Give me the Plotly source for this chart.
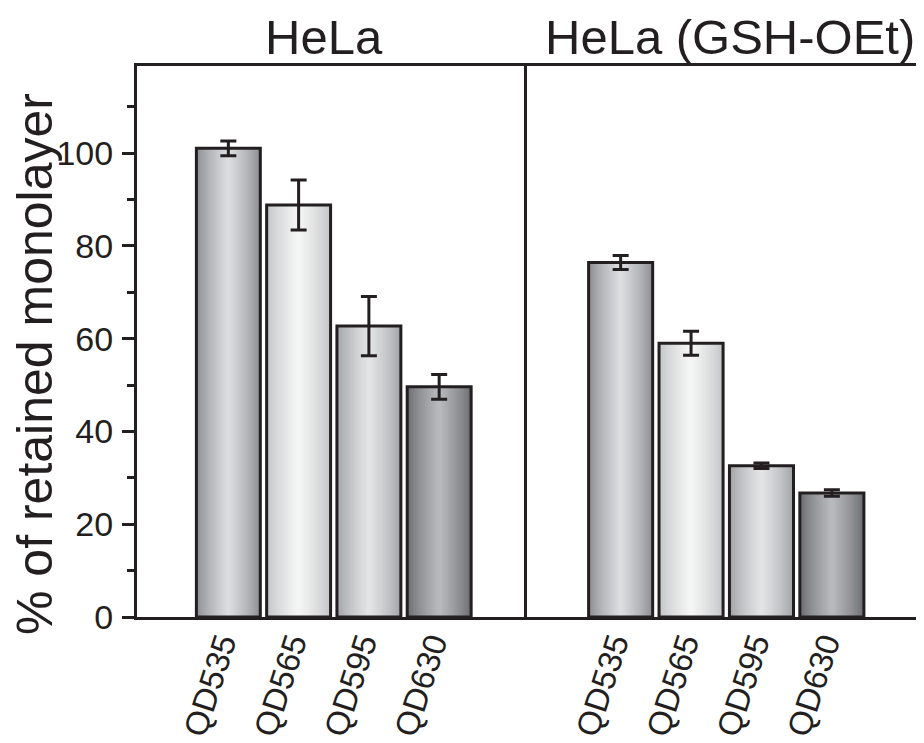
import plotly.graph_objects as go

categories = ["QD535", "QD565", "QD595", "QD630"]
hela_values = [101.0, 88.8, 62.7, 49.6]
hela_errors = [1.6, 5.4, 6.4, 2.65]
gsh_values = [76.4, 59.0, 32.6, 26.7]
gsh_errors = [1.5, 2.6, 0.6, 0.7]
panel_titles = ["HeLa", "HeLa (GSH-OEt)"]
y_title = "% of retained monolayer"

edge_colors = ["#8b8c90", "#c2c3c5", "#a1a2a5", "#6a6b6f"]
center_colors = ["#dcdddf", "#f5f5f5", "#e3e4e5", "#b8b9bc"]

INK = "#231f20"
FONT = "Liberation Sans, Arial, sans-serif"
BAR_W = 0.91
N_LAYERS = 18


def hex2rgb(h):
    h = h.lstrip("#")
    return tuple(int(h[i:i + 2], 16) for i in (0, 2, 4))


def mix(a, b, t):
    ra, rb = hex2rgb(a), hex2rgb(b)
    return "rgb(%d,%d,%d)" % tuple(round(ra[i] + (rb[i] - ra[i]) * t) for i in range(3))


fig = go.Figure()


def add_panel(values, errors, xa, ya):
    # gradient layers (outer dark -> inner light)
    for k in range(N_LAYERS):
        t = k / (N_LAYERS - 1)
        w = BAR_W * (1 - k / N_LAYERS)
        f = t ** 0.75
        fig.add_trace(go.Bar(
            x=categories, y=values, width=w,
            marker=dict(color=[mix(edge_colors[i], center_colors[i], f) for i in range(4)],
                        line=dict(width=0)),
            xaxis=xa, yaxis=ya, showlegend=False, hoverinfo="skip"))
    # outline + error bars
    fig.add_trace(go.Bar(
        x=categories, y=values, width=BAR_W,
        marker=dict(color="rgba(0,0,0,0)", line=dict(color=INK, width=3)),
        error_y=dict(type="data", array=errors, visible=True, color=INK,
                     thickness=3, width=8),
        xaxis=xa, yaxis=ya, showlegend=False))


add_panel(hela_values, hela_errors, "x", "y")
add_panel(gsh_values, gsh_errors, "x2", "y2")

# page body adds ~8px offset; compensate
OFF = 8
W, H = 924 - OFF, 743 - OFF
ML, MR, MT, MB = 137 - OFF, 2, 66 - OFF, 126
pw = W - ML - MR
ph = H - MT - MB
split = 390 / pw

common_x = dict(showline=True, linewidth=3, linecolor=INK, mirror=True,
                ticks="", showgrid=False, zeroline=False, tickangle=-72,
                tickfont=dict(family=FONT, size=33, color=INK),
                type="category", automargin=False,
                ticklabelstandoff=-9, ticklabelshift=-7)
fig.update_layout(
    width=W, height=H,
    margin=dict(l=ML, r=MR, t=MT, b=MB, autoexpand=False),
    paper_bgcolor="white", plot_bgcolor="white",
    barmode="overlay",
    font=dict(family=FONT, color=INK),
    xaxis=dict(domain=[0, split], range=[-1.30, 4.25], anchor="y", **common_x),
    xaxis2=dict(domain=[split, 1], range=[-1.33, 4.28], anchor="y2", **common_x),
    yaxis=dict(range=[0, 118.75], showline=True, linewidth=3, linecolor=INK,
               mirror=False, ticks="outside", ticklen=12, tickwidth=3, tickcolor=INK,
               dtick=20, tick0=0, showgrid=False, zeroline=False, automargin=False,
               tickfont=dict(family=FONT, size=34, color=INK),
               ticklabelstandoff=2,
               minor=dict(ticks="outside", ticklen=7, tickwidth=3, tickcolor=INK,
                          dtick=10, tick0=0, showgrid=False),
               anchor="x"),
    yaxis2=dict(range=[0, 118.75], showline=True, linewidth=3, linecolor=INK,
                mirror=True, ticks="", showticklabels=False, showgrid=False,
                zeroline=False, anchor="x2", automargin=False),
)

fig.add_annotation(text=panel_titles[0], xref="paper", yref="paper",
                   x=(324 - 137) / pw, y=1, xanchor="center", yanchor="bottom",
                   yshift=1, showarrow=False, borderpad=0,
                   font=dict(family=FONT, size=49, color=INK))
fig.add_annotation(text=panel_titles[1], xref="paper", yref="paper",
                   x=(730 - 137) / pw, y=1, xanchor="center", yanchor="bottom",
                   yshift=1, showarrow=False, borderpad=0,
                   font=dict(family=FONT, size=49, color=INK))
fig.add_annotation(text=y_title, xref="paper", yref="paper",
                   x=(35 - 137) / pw, y=(617 - 364) / ph, xanchor="center",
                   yanchor="middle", textangle=-90, showarrow=False, borderpad=0,
                   font=dict(family=FONT, size=50, color=INK))

fig.write_html("out.html")
